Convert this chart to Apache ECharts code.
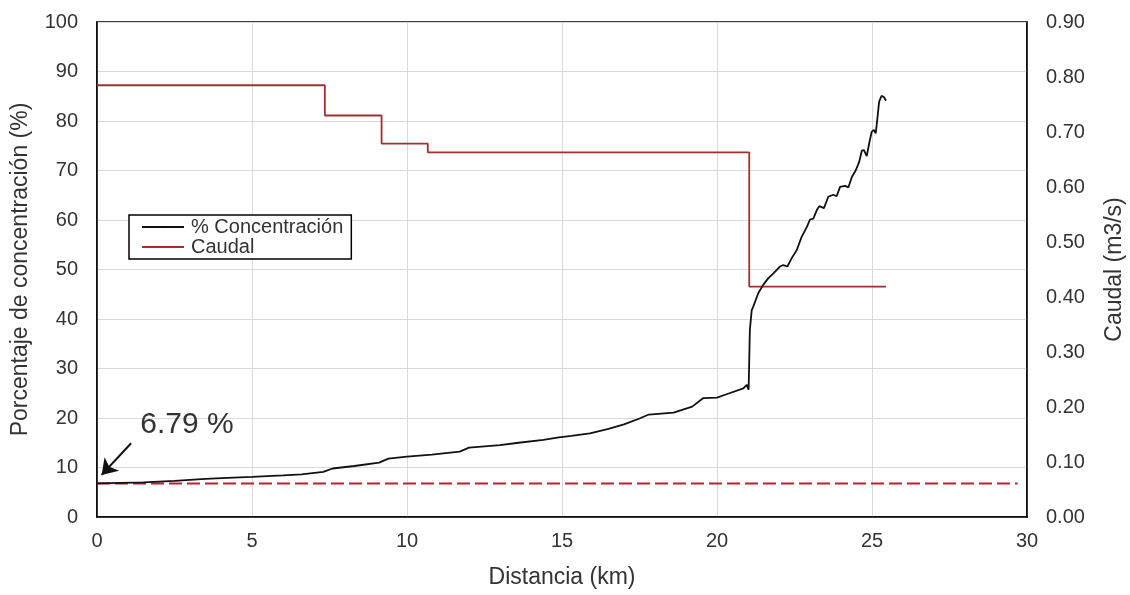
<!DOCTYPE html>
<html>
<head>
<meta charset="utf-8">
<script src="https://cdn.jsdelivr.net/npm/echarts@6/dist/echarts.min.js"></script>
<style>
  html, body { margin: 0; padding: 0; background: #fff; }
  #chart { width: 1130px; height: 595px; }
</style>
</head>
<body>
<div id="chart"></div>
<script>
// distancia (km) y % de concentración
var distKm = [0, 0.8, 1.5, 2.5, 3.5, 4.2, 5.0, 6.0, 6.6, 7.3,
  7.6, 8.3, 9.1, 9.4, 10.0, 10.8, 11.7, 12.0, 13.0, 13.6,
  14.4, 14.9, 15.3, 15.9, 16.5, 17.0, 17.5, 17.8, 18.6, 19.2,
  19.55, 20.0, 20.4, 20.85, 20.96, 21.02, 21.06, 21.12, 21.17, 21.33,
  21.49, 21.65, 21.82, 22.03, 22.14, 22.27, 22.41, 22.57, 22.73, 22.9,
  23.0, 23.11, 23.22, 23.3, 23.45, 23.59, 23.75, 23.86, 23.97, 24.13,
  24.24, 24.35, 24.48, 24.59, 24.67, 24.74, 24.83, 24.91, 24.99, 25.06,
  25.12, 25.18, 25.23, 25.31, 25.39, 25.45];
var concentracion = [6.79, 6.9, 7.0, 7.3, 7.7, 7.9, 8.1, 8.4, 8.6, 9.1,
  9.8, 10.3, 11.0, 11.8, 12.2, 12.6, 13.2, 14.0, 14.5, 15.0,
  15.6, 16.1, 16.4, 16.9, 17.8, 18.7, 19.9, 20.7, 21.1, 22.3,
  24.0, 24.1, 25.0, 26.0, 26.7, 25.7, 37.8, 41.8, 42.5, 45.2,
  46.9, 48.2, 49.2, 50.6, 50.9, 50.6, 52.3, 53.9, 56.6, 58.6,
  60.1, 60.3, 62.0, 62.8, 62.4, 64.7, 65.1, 64.8, 66.7, 66.9,
  66.6, 68.7, 70.1, 71.8, 74.0, 74.1, 72.9, 75.5, 77.8, 78.2,
  77.5, 80.9, 83.9, 85.1, 84.8, 84.1];

// caudal por tramos (m3/s)
var caudalKm = [0, 7.35, 9.18, 10.67, 21.04, 25.45];
var caudal = [0.785, 0.730, 0.679, 0.663, 0.419, 0.419];

// línea base de concentración inicial
var baseKm = [0, 29.7];
var baseValor = 6.79;

// anotación (flecha y texto)
var flechaDesde = [1.1, 14.9];
var flechaHasta = [0.15, 8.5];
var textoPos = [2.9, 18.6];

var xTicks = { min: 0, max: 30, interval: 5 };
var yLeftTicks = { min: 0, max: 100, interval: 10 };
var yRightTicks = { min: 0, max: 0.9, interval: 0.1 };

var fuente = '"Liberation Sans", Arial, sans-serif';
var texto = '#333';

function pares(xs, ys) {
  return xs.map(function (x, i) { return [x, ys[i]]; });
}

var chart = echarts.init(document.getElementById('chart'));

var option = {
  animation: false,
  textStyle: { fontFamily: fuente, color: texto },
  grid: {
    left: 97, right: 103, top: 22, bottom: 78,
    outerBoundsMode: 'none',
    containLabel: false,
    show: true, borderColor: '#000', borderWidth: 1.5,
    backgroundColor: '#fff'
  },
  legend: {
    left: 129, top: 215,
    orient: 'vertical',
    data: ['% Concentración', 'Caudal'],
    itemWidth: 42, itemHeight: 2, itemGap: 0,
    padding: [2, 8, 2, 12],
    backgroundColor: '#fff',
    borderColor: '#000', borderWidth: 1.5, borderRadius: 0,
    textStyle: { fontFamily: fuente, fontSize: 20, lineHeight: 20, color: texto, padding: [0, 0, 0, 2] }
  },
  xAxis: {
    type: 'value',
    min: xTicks.min, max: xTicks.max, interval: xTicks.interval,
    name: 'Distancia (km)', nameLocation: 'middle', nameGap: 49,
    nameTextStyle: { fontSize: 23, color: texto },
    axisLine: { lineStyle: { color: '#000', width: 1.5 } },
    axisTick: { show: false },
    axisLabel: { fontSize: 20, color: texto, margin: 14 },
    splitLine: { lineStyle: { color: '#d9d9d9', width: 1 } }
  },
  yAxis: [
    {
      type: 'value',
      min: yLeftTicks.min, max: yLeftTicks.max, interval: yLeftTicks.interval,
      name: 'Porcentaje de concentración (%)', nameLocation: 'middle', nameGap: 65,
      nameRotate: 90,
      nameTextStyle: { fontSize: 23, color: texto },
      axisLine: { show: true, lineStyle: { color: '#000', width: 1.5 } },
      axisTick: { show: false },
      axisLabel: { fontSize: 20, color: texto, margin: 19 },
      splitLine: { lineStyle: { color: '#d9d9d9', width: 1 } }
    },
    {
      type: 'value', position: 'right',
      min: yRightTicks.min, max: yRightTicks.max, interval: yRightTicks.interval,
      name: 'Caudal (m3/s)', nameLocation: 'middle', nameGap: 76,
      nameRotate: 90,
      nameTextStyle: { fontSize: 23, color: texto },
      axisLine: { show: true, lineStyle: { color: '#000', width: 1.5 } },
      axisTick: { show: false },
      axisLabel: {
        fontSize: 20, color: texto, margin: 19,
        formatter: function (v) { return v.toFixed(2); }
      },
      splitLine: { show: false }
    }
  ],
  series: [
    {
      name: 'Base',
      type: 'line',
      yAxisIndex: 0,
      data: baseKm.map(function (x) { return [x, baseValor]; }),
      symbol: 'none',
      lineStyle: { color: '#b8232b', width: 2, type: [13, 5] },
      z: 2
    },
    {
      name: 'Caudal',
      type: 'line',
      yAxisIndex: 1,
      step: 'end',
      data: pares(caudalKm, caudal),
      symbol: 'none',
      itemStyle: { color: '#a0302f' },
      lineStyle: { color: '#a0302f', width: 1.8 },
      z: 3
    },
    {
      name: '% Concentración',
      type: 'line',
      yAxisIndex: 0,
      data: pares(distKm, concentracion),
      symbol: 'none',
      itemStyle: { color: '#000' },
      lineStyle: { color: '#111', width: 1.8 },
      z: 4,
      markLine: {
        silent: true,
        symbol: ['none', 'arrow'],
        symbolSize: 15,
        label: { show: false },
        lineStyle: { color: '#111', width: 2, type: 'solid' },
        data: [[{ coord: flechaDesde }, { coord: flechaHasta }]]
      },
      markPoint: {
        silent: true,
        symbol: 'rect',
        symbolSize: 1,
        itemStyle: { color: 'rgba(0,0,0,0)' },
        label: {
          show: true, position: 'inside',
          fontSize: 30, color: texto, fontFamily: fuente,
          formatter: '6.79 %'
        },
        data: [{ coord: textoPos }]
      }
    }
  ]
};

chart.setOption(option);
</script>
</body>
</html>
